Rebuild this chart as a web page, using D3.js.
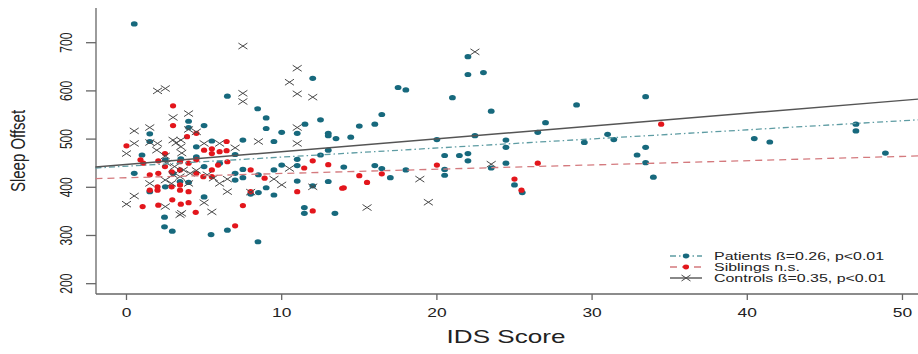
<!DOCTYPE html>
<html>
<head>
<meta charset="utf-8">
<script src="https://cdn.jsdelivr.net/npm/d3@7"></script>
<style>
  html, body { margin: 0; padding: 0; background: #fff; }
  svg { display: block; font-family: "Liberation Sans", Arial, sans-serif; }
</style>
</head>
<body>
<svg id="chart" width="918" height="354"></svg>
<script>
// IDS score (x) vs sleep offset (y)
const patients = [
  [0.5,739],[6.5,589],[8.45,563],[9,544],[9,522],[10,514],[11,512],[11.5,531],[12,626],[12.5,540],[13,512],[13,507],[13.5,501],[14.45,504],
  [1.5,511],[1.5,495],[4,537],[4,524],[5,528],[5.5,496],[4.5,463],[1,467],[3.5,459],[7,468],[7.5,498],
  [11,445],[12.5,467],[13,477],[14,442],[10,446],[9.5,436],[11,458],[9.5,495],
  [22,671],[22,634],[23,638],[17.5,607],[18,602],[21,586],[23.5,558],[16.45,551],[15,527],[16,531],[20,499],[22.45,507],
  [24.45,498],[24.45,483],[26.5,514],[27,534],[29,571],[31,510],[31.4,499],[29.5,493],[32.9,467],
  [20.5,466],[21.45,466],[22,470],[22,455],[20.5,437],[20.5,425],[16,445],[16.45,439],[17,420],[18,436],[23.5,440],[24.45,450],[25,405],[25.5,389],
  [33.45,588],[33.45,483],[33.45,451],[33.95,421],[40.45,501],[41.45,494],[47,531],[47,517],[48.9,471],
  [2.45,338],[2.45,318],[2.95,309],[5.45,302],[6.5,311],[8.47,287],[11.46,358],[11.46,346],[13.43,346],[8.5,389],[9.5,384],[9,399],
  [11,413],[12,403],[13,412],[5,380],[1.5,391],[0.5,429],[2.5,401],[4,410],[8.5,426],[7.5,420],[2.5,457],[4.5,484],[3,429],[3.45,412],
  [5,443],[6,450],[7,429],[7,415],[8,386],[7.5,437]
];
const siblings = [
  [3,569],[3,528],[0,486],[4.5,512],[3.9,505],[6.45,495],[6.45,476],[5,477],[5.5,480],[12,455],[13,447],[11.45,440],[2.05,455],
  [20,446],[26.5,450],[15,424],[15.5,410],[16.45,428],[14,399],[25,417],[25.45,394],[34.45,531],
  [7,320],[13.9,398],[12,351],[11,391],[7.5,362],[1.04,360],[2.05,363],[3.5,365],[4,368],[4.46,348],[2.95,374],
  [8,436],[8.9,419],[8,391],[6.5,453],
  [1.08,450],[1.5,426],[2.05,429],[2.48,443],[2.91,432],[3.45,436],[2,401],[2,394],[1.5,394],[2.91,401],[3.45,405],[3.45,394],[4,391],
  [5.5,470],[6,474],[3.45,453],[4,450],[4.5,457],[4.5,429],[4.95,422],[5.5,436],[5.9,446],[2.48,470],[0.9,457],[5.5,422]
];
const controls = [
  [7.5,693],[11,647],[10.5,618],[11,594],[12,587],[7.5,595],[7.5,578],[2,600],[2.5,605],[3,545],[4,553],[0.5,517],[1.5,524],[0.5,491],
  [0,470],[2,491],[3,498],[3.5,498],[3.5,484],[4,520],[4.5,515],[5,491],[6,491],[7,482],[8.5,495],[11,524],[11,491],[2.5,465],[10.5,439],
  [22.45,681],[23.5,448],[18.9,417],[15.5,358],[19.45,369],
  [0,365],[0.5,382],[1.5,408],[2.5,360],[3.45,343],[3.55,346],[5,368],[5.5,349],[6.5,391],[8,390],[9.5,417],[10,405],[12,401],
  [4.5,435],[6,408],[6.5,417],
  [1.5,493],[1.95,477],[3.2,492],[3.56,471],[2.6,450],[3.1,443],[3.66,436],[3,426],[2.5,415],[2.9,408],[3.45,422],[4.1,429],[4,408],[5.2,426],[5.6,419]
];

// regression lines: y at the two ends of fitX
const fitX = [-2, 51];
const patientsFit = [440, 540];
const siblingsFit = [418, 465];
const controlsFit = [442, 583];

const xTicks = [0, 10, 20, 30, 40, 50];
const yTicks = [200, 300, 400, 500, 600, 700];
const legendLabels = ["Patients \u00DF=0.26, p<0.01", "Siblings n.s.", "Controls \u00DF=0.35, p<0.01"];

const SX = 1.45; // the source picture is stretched sideways
const teal = "#17697d", red = "#e3161c", grey = "#4a4a4a";
const tealLine = "#5e9ca3", redLine = "#d47a7e", greyLine = "#555";

const svg = d3.select("#chart");
const x = d3.scaleLinear().domain([-1.965, 51]).range([96, 918]);
const y = d3.scaleLinear().domain([178.6, 772]).range([294, 8]);

// axes (L shaped frame)
const axisCol = "#666";
svg.append("line").attr("x1", 96).attr("x2", 96).attr("y1", y.range()[1]).attr("y2", y.range()[0])
  .attr("stroke", axisCol).attr("stroke-width", 1.3);
svg.append("line").attr("x1", 96).attr("x2", 918).attr("y1", 294).attr("y2", 294)
  .attr("stroke", axisCol).attr("stroke-width", 1.3);

svg.selectAll(".xt").data(xTicks).enter().append("line")
  .attr("x1", d => x(d)).attr("x2", d => x(d)).attr("y1", 294).attr("y2", 300)
  .attr("stroke", axisCol).attr("stroke-width", 1.3);
svg.selectAll(".xl").data(xTicks).enter().append("text")
  .attr("transform", d => `translate(${x(d)},316.5) scale(${SX},1)`)
  .attr("text-anchor", "middle").attr("font-size", 12).attr("fill", "#222")
  .text(d => d);

svg.selectAll(".yt").data(yTicks).enter().append("line")
  .attr("x1", 86).attr("x2", 96).attr("y1", d => y(d)).attr("y2", d => y(d))
  .attr("stroke", axisCol).attr("stroke-width", 1.3);
svg.selectAll(".yl").data(yTicks).enter().append("text")
  .attr("transform", d => `translate(71.5,${y(d)}) scale(${SX},1) rotate(-90)`)
  .attr("text-anchor", "middle").attr("font-size", 12).attr("fill", "#222")
  .text(d => d);

svg.append("text")
  .attr("transform", `translate(24.5,151) scale(1.35,1) rotate(-90)`)
  .attr("text-anchor", "middle").attr("font-size", 15).attr("fill", "#222")
  .text("Sleep Offset");
svg.append("text")
  .attr("transform", `translate(506,342.5) scale(${SX},1)`)
  .attr("text-anchor", "middle").attr("font-size", 18).attr("fill", "#222")
  .text("IDS Score");

const plot = svg.append("g");

// points
plot.selectAll(".pat").data(patients).enter().append("ellipse")
  .attr("cx", d => x(d[0])).attr("cy", d => y(d[1]))
  .attr("rx", 3.4).attr("ry", 2.6).attr("fill", teal);
plot.selectAll(".sib").data(siblings).enter().append("ellipse")
  .attr("cx", d => x(d[0])).attr("cy", d => y(d[1]))
  .attr("rx", 3.1).attr("ry", 2.6).attr("fill", red);

function cross(g, cx, cy, w, h) {
  g.append("path")
    .attr("d", `M${cx - w},${cy - h}L${cx + w},${cy + h}M${cx - w},${cy + h}L${cx + w},${cy - h}`)
    .attr("stroke", grey).attr("stroke-width", 1).attr("fill", "none");
}
controls.forEach(d => cross(plot, x(d[0]), y(d[1]), 4.5, 3));

// fit lines
const fits = [
  { v: patientsFit, col: tealLine, dash: "6,3,1.5,3", w: 1.3 },
  { v: siblingsFit, col: redLine, dash: "7,5", w: 1.3 },
  { v: controlsFit, col: greyLine, dash: null, w: 1.4 }
];
fits.forEach(f => {
  plot.append("line")
    .attr("x1", x(fitX[0])).attr("y1", y(f.v[0]))
    .attr("x2", x(fitX[1])).attr("y2", y(f.v[1]))
    .attr("stroke", f.col).attr("stroke-width", f.w)
    .attr("stroke-dasharray", f.dash);
});

// legend
const leg = svg.append("g");
const rowsY = [256, 267, 278];
legendLabels.forEach((lab, i) => {
  const f = fits[i], ly = rowsY[i];
  leg.append("line").attr("x1", 670).attr("x2", 702).attr("y1", ly).attr("y2", ly)
    .attr("stroke", f.col).attr("stroke-width", f.w).attr("stroke-dasharray", f.dash);
  if (i === 0) leg.append("ellipse").attr("cx", 686).attr("cy", ly).attr("rx", 3.2).attr("ry", 2.4).attr("fill", teal);
  if (i === 1) leg.append("ellipse").attr("cx", 686).attr("cy", ly).attr("rx", 3).attr("ry", 2.4).attr("fill", red);
  if (i === 2) cross(leg, 686, ly, 4.5, 3);
  leg.append("text")
    .attr("transform", `translate(714,${ly + 4}) scale(${SX},1)`)
    .attr("font-size", 11).attr("fill", "#222")
    .text(lab);
});
</script>
</body>
</html>
